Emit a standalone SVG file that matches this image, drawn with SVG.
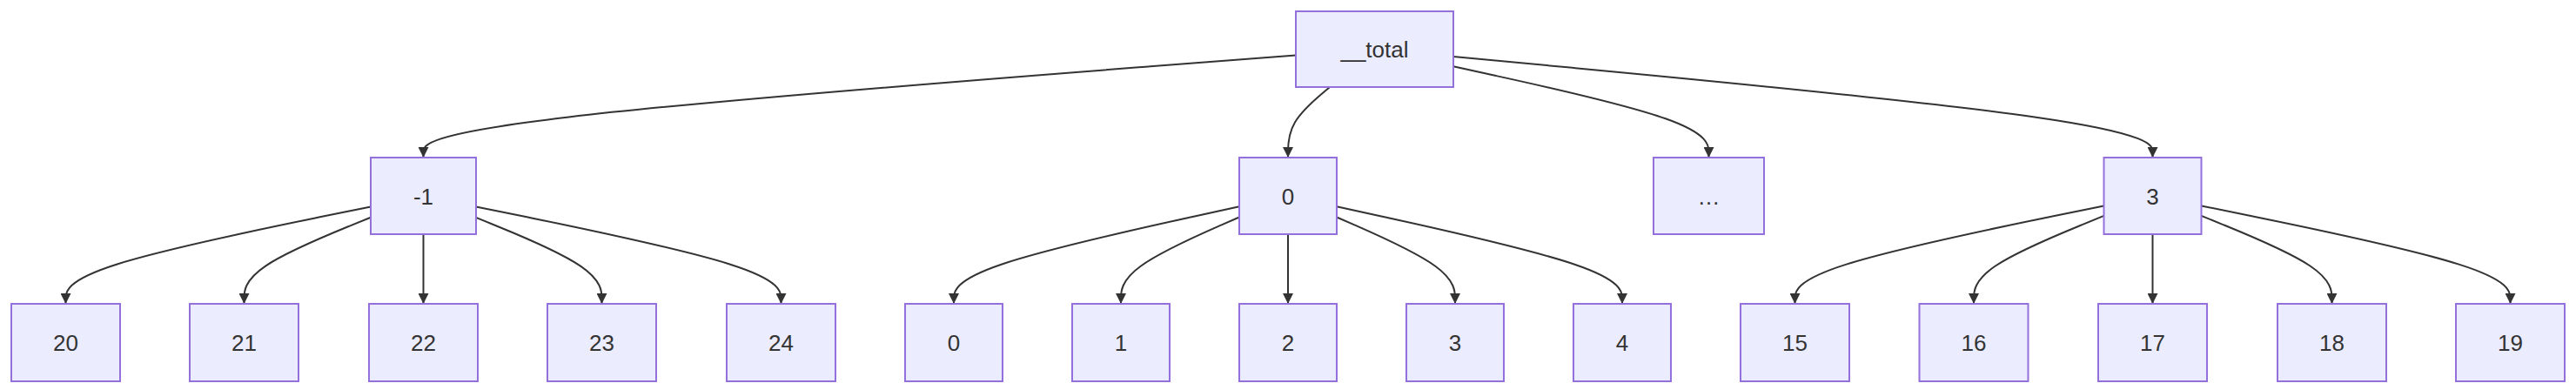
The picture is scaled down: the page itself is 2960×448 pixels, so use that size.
<svg xmlns="http://www.w3.org/2000/svg" width="2960" height="448" viewBox="0 0 2960 448">
<defs>
<style>
.node rect{fill:#ECECFF;stroke:#9370DB;stroke-width:2}
.node text{font-family:"Liberation Sans",Arial,sans-serif;font-size:26px;fill:#333333;text-anchor:middle}
.edges path{fill:none;stroke:#333333;stroke-width:2;marker-end:url(#arrow)}
</style>
<marker id="arrow" viewBox="0 0 10 10" refX="10" refY="5" markerUnits="userSpaceOnUse" markerWidth="12" markerHeight="12" orient="auto">
<path d="M0,0 L10,5 L0,10 z" fill="#333333"/>
</marker>
</defs>
<rect width="2960" height="448" fill="#ffffff"/>
<g class="edges">
<path d="M1489,63.5 L1321.9,76.3 C1154.8,89.2 820.7,114.8 653.6,134.4 C486.5,154 486.5,167.5 486.5,174.25 L486.5,181"/>
<path d="M1528,100 L1520,106.75 C1512,113.5 1496,127 1488,140.5 C1480,154 1480,167.5 1480,174.25 L1480,181"/>
<path d="M1670,76.3 L1718.9,87 C1767.8,97.7 1865.7,119.1 1914.6,136.55 C1963.5,154 1963.5,167.5 1963.5,174.25 L1963.5,181"/>
<path d="M1670,65 L1803.9,77.6 C1937.8,90.2 2205.7,115.3 2339.6,134.7 C2473.5,154 2473.5,167.5 2473.5,174.25 L2473.5,181"/>
<path d="M426,237.4 L367.6,249.3 C309.2,261.3 192.3,285.1 133.9,303.7 C75.5,322.3 75.5,335.7 75.5,342.3 L75.5,349"/>
<path d="M426,249.7 L401.75,259.6 C377.5,269.5 329,289.2 304.75,305.8 C280.5,322.3 280.5,335.7 280.5,342.3 L280.5,349"/>
<path d="M486.5,269 L486.5,349"/>
<path d="M547,249.8 L571.1,259.7 C595.2,269.5 643.3,289.3 667.4,305.8 C691.5,322.3 691.5,335.7 691.5,342.3 L691.5,349"/>
<path d="M547,237.4 L605.4,249.3 C663.8,261.3 780.7,285.1 839.1,303.7 C897.5,322.3 897.5,335.7 897.5,342.3 L897.5,349"/>
<path d="M1424,237.25 L1369.3,249.2 C1314.7,261.2 1205.3,285.1 1150.7,303.7 C1096,322.3 1096,335.7 1096,342.3 L1096,349"/>
<path d="M1424,249.5 L1401.3,259.4 C1378.7,269.3 1333.3,289.2 1310.7,305.75 C1288,322.3 1288,335.7 1288,342.3 L1288,349"/>
<path d="M1480,269 L1480,349"/>
<path d="M1536,249.5 L1558.7,259.4 C1581.3,269.3 1626.7,289.2 1649.3,305.75 C1672,322.3 1672,335.7 1672,342.3 L1672,349"/>
<path d="M1536,237.25 L1590.7,249.2 C1645.3,261.2 1754.7,285.1 1809.3,303.7 C1864,322.3 1864,335.7 1864,342.3 L1864,349"/>
<path d="M2417.5,236.45 L2358.3,248.5 C2299.2,260.6 2180.8,284.8 2121.7,303.6 C2062.5,322.3 2062.5,335.7 2062.5,342.3 L2062.5,349"/>
<path d="M2417.5,247.9 L2392.6,258.1 C2367.7,268.3 2317.8,288.6 2292.9,305.5 C2268,322.3 2268,335.7 2268,342.3 L2268,349"/>
<path d="M2473.5,269 L2473.5,349"/>
<path d="M2529.5,247.9 L2554.5,258.1 C2579.5,268.3 2629.5,288.6 2654.5,305.5 C2679.5,322.3 2679.5,335.7 2679.5,342.3 L2679.5,349"/>
<path d="M2529.5,236.45 L2588.7,248.5 C2647.8,260.6 2766.2,284.8 2825.3,303.6 C2884.5,322.3 2884.5,335.7 2884.5,342.3 L2884.5,349"/>
</g>
<g id="n-total" class="node"><rect x="1489" y="13" width="181" height="87"/><text x="1579.5" y="66">__total</text></g>
<g id="n-m1" class="node"><rect x="426" y="181" width="121" height="88"/><text x="486.5" y="234.5">-1</text></g>
<g id="n-0" class="node"><rect x="1424" y="181" width="112" height="88"/><text x="1480" y="234.5">0</text></g>
<g id="n-more" class="node"><rect x="1900" y="181" width="127" height="88"/><text x="1963.5" y="234.5">…</text></g>
<g id="n-3" class="node"><rect x="2417.5" y="181" width="112" height="88"/><text x="2473.5" y="234.5">3</text></g>
<g id="n-20" class="node"><rect x="13" y="349" width="125" height="89"/><text x="75.5" y="403">20</text></g>
<g id="n-21" class="node"><rect x="218" y="349" width="125" height="89"/><text x="280.5" y="403">21</text></g>
<g id="n-22" class="node"><rect x="424" y="349" width="125" height="89"/><text x="486.5" y="403">22</text></g>
<g id="n-23" class="node"><rect x="629" y="349" width="125" height="89"/><text x="691.5" y="403">23</text></g>
<g id="n-24" class="node"><rect x="835" y="349" width="125" height="89"/><text x="897.5" y="403">24</text></g>
<g id="n-l0" class="node"><rect x="1040" y="349" width="112" height="89"/><text x="1096" y="403">0</text></g>
<g id="n-l1" class="node"><rect x="1232" y="349" width="112" height="89"/><text x="1288" y="403">1</text></g>
<g id="n-l2" class="node"><rect x="1424" y="349" width="112" height="89"/><text x="1480" y="403">2</text></g>
<g id="n-l3" class="node"><rect x="1616" y="349" width="112" height="89"/><text x="1672" y="403">3</text></g>
<g id="n-l4" class="node"><rect x="1808" y="349" width="112" height="89"/><text x="1864" y="403">4</text></g>
<g id="n-15" class="node"><rect x="2000" y="349" width="125" height="89"/><text x="2062.5" y="403">15</text></g>
<g id="n-16" class="node"><rect x="2205.5" y="349" width="125" height="89"/><text x="2268" y="403">16</text></g>
<g id="n-17" class="node"><rect x="2411" y="349" width="125" height="89"/><text x="2473.5" y="403">17</text></g>
<g id="n-18" class="node"><rect x="2617" y="349" width="125" height="89"/><text x="2679.5" y="403">18</text></g>
<g id="n-19" class="node"><rect x="2822" y="349" width="125" height="89"/><text x="2884.5" y="403">19</text></g>
</svg>
